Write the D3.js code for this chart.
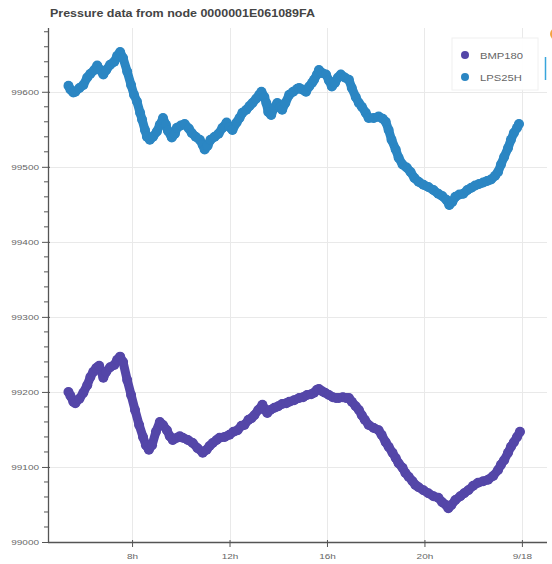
<!DOCTYPE html>
<html>
<head>
<meta charset="utf-8">
<script src="https://cdn.jsdelivr.net/npm/d3@7"></script>
<style>
  html, body { margin: 0; padding: 0; background: #fff; }
  svg { display: block; }
</style>
</head>
<body>
<svg id="chart" width="552" height="564"></svg>
<script>
// Pressure readings (Pa) from two sensors on one node, time in hours of 2016-09-17
const lpsHours = [5.39,5.47,5.59,5.67,5.84,6.00,6.16,6.29,6.45,6.57,6.69,6.82,6.94,7.10,7.27,7.39,7.51,7.63,7.80,7.96,
  8.08,8.20,8.33,8.41,8.53,8.61,8.73,8.86,9.02,9.14,9.27,9.39,9.47,9.63,9.76,9.84,10.00,10.16,10.33,10.45,
  10.61,10.78,10.90,10.98,11.10,11.22,11.39,11.55,11.71,11.88,12.00,12.12,12.29,12.41,12.53,12.69,12.82,12.94,13.10,13.22,
  13.31,13.43,13.51,13.59,13.71,13.84,13.96,14.08,14.16,14.29,14.45,14.61,14.78,14.86,14.98,15.14,15.27,15.39,15.47,15.59,
  15.67,15.80,15.96,16.08,16.20,16.33,16.45,16.57,16.73,16.90,17.02,17.18,17.31,17.43,17.59,17.71,17.92,18.12,18.29,18.41,
  18.53,18.65,18.82,18.94,19.10,19.27,19.43,19.59,19.76,19.96,20.16,20.37,20.57,20.73,20.90,21.02,21.14,21.27,21.43,21.59,
  21.76,21.92,22.08,22.24,22.41,22.57,22.73,22.90,23.02,23.14,23.27,23.43,23.55,23.67,23.80,23.88];
const lpsPa = [99608,99603,99599,99600,99605,99609,99619,99624,99629,99635,99629,99623,99629,99636,99640,99648,99653,99645,99627,99609,
  99596,99587,99572,99563,99549,99540,99536,99540,99547,99556,99565,99556,99548,99539,99544,99552,99555,99557,99551,99545,
  99540,99536,99529,99523,99528,99536,99540,99544,99552,99559,99553,99549,99559,99565,99572,99576,99581,99585,99591,99596,
  99600,99593,99585,99573,99569,99579,99585,99579,99576,99585,99596,99600,99604,99605,99603,99600,99607,99612,99616,99623,
  99629,99625,99623,99615,99607,99612,99619,99623,99619,99616,99605,99593,99585,99580,99572,99565,99565,99567,99564,99560,
  99549,99536,99523,99512,99503,99499,99493,99485,99480,99476,99473,99469,99464,99461,99456,99449,99453,99460,99463,99464,
  99469,99472,99475,99477,99479,99481,99483,99488,99493,99503,99513,99525,99536,99545,99552,99557];

const bmpHours = [5.39,5.47,5.59,5.67,5.84,6.00,6.16,6.29,6.41,6.53,6.65,6.82,6.94,7.10,7.27,7.39,7.51,7.63,7.80,7.96,
  8.12,8.29,8.45,8.57,8.69,8.82,8.98,9.14,9.27,9.43,9.55,9.67,9.84,9.96,10.08,10.29,10.49,10.69,10.90,11.06,
  11.18,11.31,11.47,11.59,11.80,12.00,12.16,12.33,12.49,12.61,12.78,12.90,13.02,13.18,13.35,13.47,13.55,13.67,13.84,14.00,
  14.16,14.33,14.45,14.65,14.86,15.02,15.18,15.35,15.47,15.59,15.67,15.80,15.92,16.08,16.24,16.37,16.49,16.65,16.78,16.90,
  17.02,17.18,17.31,17.43,17.55,17.71,17.92,18.12,18.24,18.41,18.53,18.69,18.82,18.94,19.10,19.22,19.35,19.51,19.63,19.76,
  19.96,20.16,20.37,20.57,20.73,20.90,20.98,21.10,21.27,21.47,21.63,21.80,22.00,22.20,22.41,22.61,22.82,23.02,23.14,23.27,
  23.43,23.55,23.67,23.80,23.92];
const bmpPa = [99200,99195,99187,99185,99191,99199,99209,99220,99227,99232,99235,99219,99227,99233,99236,99243,99247,99240,99216,99196,
  99176,99156,99140,99129,99123,99129,99147,99160,99156,99149,99141,99136,99139,99141,99139,99136,99132,99125,99119,99123,
  99128,99132,99136,99139,99140,99143,99147,99149,99155,99156,99163,99165,99169,99176,99183,99176,99172,99176,99179,99181,
  99184,99185,99187,99189,99192,99193,99196,99197,99199,99203,99204,99201,99199,99196,99193,99192,99192,99193,99192,99192,
  99187,99181,99176,99169,99163,99156,99152,99149,99143,99133,99127,99119,99112,99105,99099,99092,99087,99081,99076,99073,
  99069,99065,99061,99059,99053,99049,99045,99049,99056,99061,99065,99069,99075,99079,99081,99083,99088,99096,99103,99109,
  99119,99127,99133,99140,99147];

const seriesNames = ["BMP180", "LPS25H"];
const seriesColors = ["#5446a8", "#2b86c3"];
const tickHours = [8, 12, 16, 20, 24];
const yTicks = [99000, 99100, 99200, 99300, 99400, 99500, 99600];
const yMinorTicks = d3.range(99000, 99681, 20).filter(v => v % 100 !== 0);
const titleText = "Pressure data from node 0000001E061089FA";

// ---- layout ----
const TEXT_SX = 1.25;              // horizontal text stretch
const frame = { left: 48, right: 547, top: 28, bottom: 542 };
const DAY0 = Date.UTC(2016, 8, 17);
const toDate = h => new Date(DAY0 + h * 3600000);

const svg = d3.select("#chart");

const x = d3.scaleUtc()
  .domain([toDate(4.55), toDate(25.03)])
  .range([frame.left, frame.right]);
const y = d3.scaleLinear()
  .domain([99000, 99685])
  .range([frame.bottom, frame.top]);

const fmtTime = d => d.getUTCHours() === 0
  ? `${d.getUTCMonth() + 1}/${d.getUTCDate()}`
  : `${d.getUTCHours()}h`;

// grid
const grid = svg.append("g").attr("stroke", "#e9e9e9").attr("stroke-width", 1);
grid.selectAll("line.gx").data(tickHours).join("line")
  .attr("x1", d => Math.round(x(toDate(d))) + 0.5).attr("x2", d => Math.round(x(toDate(d))) + 0.5)
  .attr("y1", frame.top).attr("y2", frame.bottom);
grid.selectAll("line.gy").data(yTicks.slice(1)).join("line")
  .attr("y1", d => Math.round(y(d)) + 0.5).attr("y2", d => Math.round(y(d)) + 0.5)
  .attr("x1", frame.left).attr("x2", frame.right);

// series: dense markers joined by a thick trace
function drawSeries(hours, values, color) {
  const pts = hours.map((h, i) => [x(toDate(h)), y(values[i])]);
  const g = svg.append("g");
  g.append("path")
    .attr("d", d3.line()(pts))
    .attr("fill", "none")
    .attr("stroke", color)
    .attr("stroke-width", 9)
    .attr("stroke-linejoin", "round")
    .attr("stroke-linecap", "round");
  g.selectAll("circle").data(pts).join("circle")
    .attr("cx", d => d[0]).attr("cy", d => d[1])
    .attr("r", 5)
    .attr("fill", color);
}
drawSeries(bmpHours, bmpPa, seriesColors[0]);
drawSeries(lpsHours, lpsPa, seriesColors[1]);

// horizontal stretch for text, keeping its anchor in place
function stretch(sel) {
  sel.each(function () {
    const t = d3.select(this);
    const xv = +t.attr("x") || 0;
    t.attr("x", xv / TEXT_SX).attr("transform", `scale(${TEXT_SX},1)`);
  });
}

// y axis
const yAxis = svg.append("g")
  .attr("transform", `translate(${frame.left},0)`)
  .call(d3.axisLeft(y).tickValues(yTicks).tickFormat(d3.format("d")).tickSize(6).tickPadding(3));
yAxis.select(".domain").attr("stroke", "#555").attr("stroke-width", 1.3)
  .attr("d", `M0.5,${frame.top}V${frame.bottom}`);
yAxis.selectAll(".tick line").attr("stroke", "#555").attr("x2", -6).attr("x1", 2);
yAxis.selectAll(".tick text")
  .attr("font-family", "Liberation Sans, Arial, sans-serif")
  .attr("font-size", 8).attr("fill", "#666");
stretch(yAxis.selectAll(".tick text"));
yAxis.append("g").selectAll("line").data(yMinorTicks).join("line")
  .attr("x1", -4).attr("x2", 0)
  .attr("y1", d => y(d)).attr("y2", d => y(d))
  .attr("stroke", "#555");

// x axis
const xAxis = svg.append("g")
  .attr("transform", `translate(0,${frame.bottom})`)
  .call(d3.axisBottom(x).tickValues(tickHours.map(toDate)).tickFormat(fmtTime).tickSize(5).tickPadding(6));
xAxis.select(".domain").attr("stroke", "#555").attr("stroke-width", 1.3)
  .attr("d", `M${frame.left},0.5H${frame.right}`);
xAxis.selectAll(".tick line").attr("stroke", "#555").attr("y1", -2);
xAxis.selectAll(".tick text")
  .attr("font-family", "Liberation Sans, Arial, sans-serif")
  .attr("font-size", 8).attr("fill", "#666");
stretch(xAxis.selectAll(".tick text"));

// title
svg.append("text")
  .attr("x", 50 / TEXT_SX).attr("y", 17)
  .attr("transform", `scale(${TEXT_SX},1)`)
  .attr("font-family", "Liberation Sans, Arial, sans-serif")
  .attr("font-size", 10).attr("font-weight", "bold")
  .attr("fill", "#444")
  .text(titleText);

// legend
const legend = svg.append("g").attr("transform", "translate(452,38)");
legend.append("rect")
  .attr("width", 86).attr("height", 52)
  .attr("fill", "#fff").attr("fill-opacity", 0.95)
  .attr("stroke", "#f0f0f0");
const items = legend.selectAll("g.item").data(seriesNames).join("g")
  .attr("transform", (d, i) => `translate(0,${17 + i * 22})`);
items.append("circle").attr("cx", 13).attr("cy", 0).attr("r", 4)
  .attr("fill", (d, i) => seriesColors[i]);
items.append("text")
  .attr("x", 28 / TEXT_SX).attr("y", 3.5)
  .attr("transform", `scale(${TEXT_SX},1)`)
  .attr("font-family", "Liberation Sans, Arial, sans-serif")
  .attr("font-size", 9).attr("fill", "#666")
  .text(d => d);

// toolbar remnants at the right edge
svg.append("circle").attr("cx", 556).attr("cy", 34).attr("r", 6).attr("fill", "#f4a340");
svg.append("line").attr("x1", 545.5).attr("x2", 545.5).attr("y1", 57).attr("y2", 80)
  .attr("stroke", "#38a6dc").attr("stroke-width", 1.5);
</script>
</body>
</html>
